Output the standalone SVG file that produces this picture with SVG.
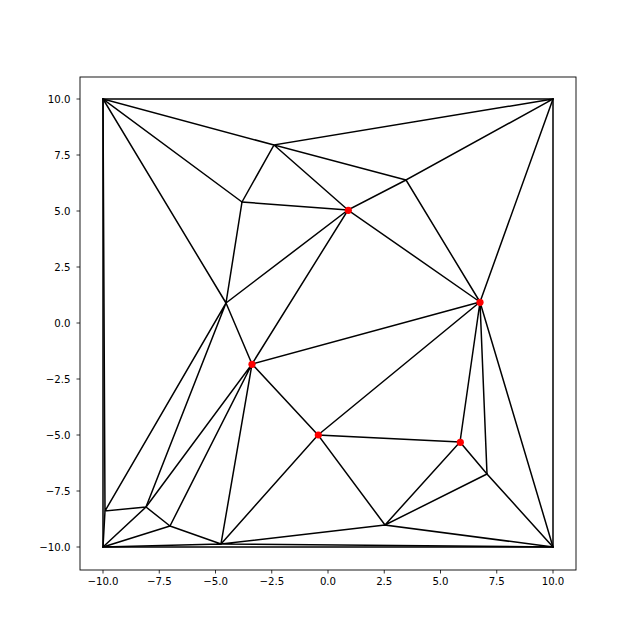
<svg xmlns="http://www.w3.org/2000/svg" width="640" height="640" viewBox="0 0 640 640">
<style>
.e{stroke:#000;stroke-width:1.5;fill:none;stroke-linecap:square}
.tk{stroke:#000;stroke-width:0.8}
.lb{font-family:"DejaVu Sans",sans-serif;font-size:10.2px;fill:#000}
.pt{fill:#ff0000}
</style>
<rect width="640" height="640" fill="#fff"/>
<g id="axes">
<rect x="80" y="77" width="496" height="493" fill="none" stroke="#000" stroke-width="0.9"/>
<g class="tk">
<line x1="103" y1="570" x2="103" y2="573.5"/>
<line x1="159.25" y1="570" x2="159.25" y2="573.5"/>
<line x1="215.5" y1="570" x2="215.5" y2="573.5"/>
<line x1="271.75" y1="570" x2="271.75" y2="573.5"/>
<line x1="328" y1="570" x2="328" y2="573.5"/>
<line x1="384.25" y1="570" x2="384.25" y2="573.5"/>
<line x1="440.5" y1="570" x2="440.5" y2="573.5"/>
<line x1="496.75" y1="570" x2="496.75" y2="573.5"/>
<line x1="553" y1="570" x2="553" y2="573.5"/>
<line x1="80" y1="99" x2="76.5" y2="99"/>
<line x1="80" y1="155" x2="76.5" y2="155"/>
<line x1="80" y1="211" x2="76.5" y2="211"/>
<line x1="80" y1="267" x2="76.5" y2="267"/>
<line x1="80" y1="323" x2="76.5" y2="323"/>
<line x1="80" y1="379" x2="76.5" y2="379"/>
<line x1="80" y1="435" x2="76.5" y2="435"/>
<line x1="80" y1="491" x2="76.5" y2="491"/>
<line x1="80" y1="547" x2="76.5" y2="547"/>
</g>
<g class="lb" text-anchor="middle">
<text x="103" y="585">−10.0</text>
<text x="159.25" y="585">−7.5</text>
<text x="215.5" y="585">−5.0</text>
<text x="271.75" y="585">−2.5</text>
<text x="328" y="585">0.0</text>
<text x="384.25" y="585">2.5</text>
<text x="440.5" y="585">5.0</text>
<text x="496.75" y="585">7.5</text>
<text x="553" y="585">10.0</text>
</g>
<g class="lb" text-anchor="end">
<text x="70.5" y="102.8">10.0</text>
<text x="70.5" y="158.8">7.5</text>
<text x="70.5" y="214.8">5.0</text>
<text x="70.5" y="270.8">2.5</text>
<text x="70.5" y="326.8">0.0</text>
<text x="70.5" y="382.8">−2.5</text>
<text x="70.5" y="438.8">−5.0</text>
<text x="70.5" y="494.8">−7.5</text>
<text x="70.5" y="550.8">−10.0</text>
</g>
</g>
<g id="connectors" class="e">
<path d="M103,99L553,99M103,99L103,547M103,547L553,547M553,99L553,547"/>
<path d="M103,99L274,145M274,145L553,99M274,145L242,202M103,99L242,202M274,145L348,210M274,145L406,180M406,180L553,99"/>
<path d="M242,202L348,210M348,210L406,180M406,180L480,302M348,210L480,302M553,99L480,302"/>
<path d="M103,99L226,303M242,202L226,303M348,210L226,303M348,210L252,364M226,303L252,364"/>
<path d="M252,364L480,302M252,364L318,435M480,302L318,435M480,302L460,442M318,435L460,442M480,302L487,474M480,302L553,547"/>
<path d="M460,442L487,474M487,474L553,547M103,99L105,511M105,511L103,547M226,303L105,511M226,303L146,507M105,511L146,507M103,547L146,507"/>
<path d="M252,364L146,507M146,507L170,526M103,547L170,526M252,364L170,526M170,526L221,544M103,547L221,544M252,364L221,544"/>
<path d="M318,435L221,544M318,435L385,525M221,544L385,525M460,442L385,525M385,525L487,474M385,525L553,547M221,544L553,547"/>
</g>
<g id="nodes">
<circle id="n1" class="pt" cx="348.3" cy="210.3" r="3.6"/>
<circle id="n2" class="pt" cx="252" cy="364.3" r="3.6"/>
<circle id="n3" class="pt" cx="480" cy="302.3" r="3.6"/>
<circle id="n4" class="pt" cx="318.3" cy="435" r="3.6"/>
<circle id="n5" class="pt" cx="460.3" cy="442.3" r="3.6"/>
</g>
</svg>
